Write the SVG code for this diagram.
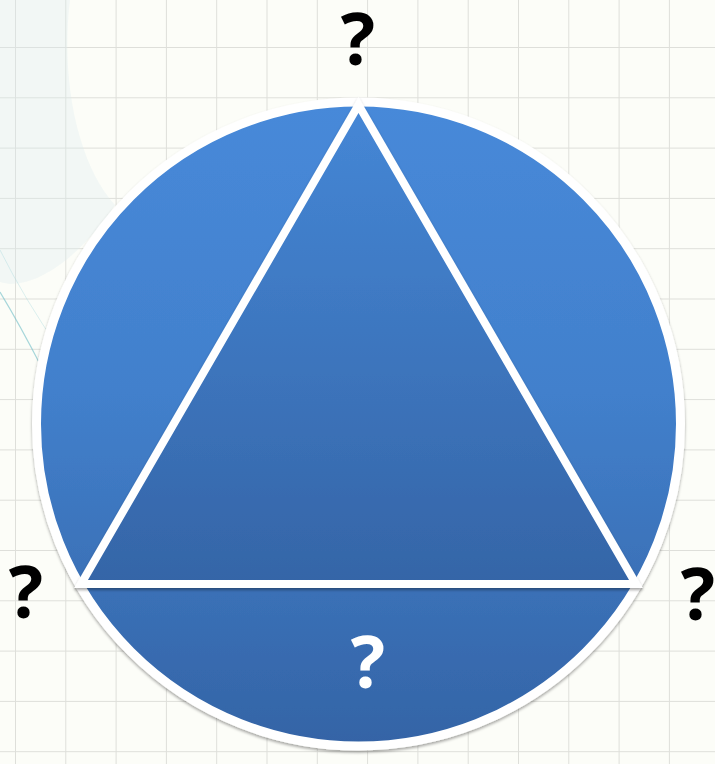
<svg xmlns="http://www.w3.org/2000/svg" width="715" height="764" viewBox="0 0 715 764">
  <defs>
    <linearGradient id="gCircle" gradientUnits="userSpaceOnUse" x1="0" y1="104" x2="0" y2="744">
      <stop offset="0" stop-color="#4789d9"/>
      <stop offset="0.45" stop-color="#4280cc"/>
      <stop offset="1" stop-color="#3464a6"/>
    </linearGradient>
    <linearGradient id="gTri" gradientUnits="userSpaceOnUse" x1="0" y1="105" x2="0" y2="584">
      <stop offset="0" stop-color="#4587d6"/>
      <stop offset="1" stop-color="#3565a7"/>
    </linearGradient>
    <filter id="shadow" x="-10%" y="-10%" width="120%" height="120%">
      <feDropShadow dx="0" dy="2" stdDeviation="1.8" flood-color="#000" flood-opacity="0.35"/>
    </filter>
    <pattern id="grid" x="15" y="47" width="50.3" height="50.3" patternUnits="userSpaceOnUse">
      <path d="M0 0 V50.3 M0 0 H50.3" fill="none" stroke="#dedfda" stroke-width="2"/>
    </pattern>
  </defs>
  <style>
    .q { font-family: "Open Sans", "Liberation Sans", sans-serif; font-weight: 700; font-size: 72px; text-anchor: middle; }
    .dark { fill: #000000; }
    .light { fill: #ffffff; }
  </style>

  <!-- background -->
  <rect width="715" height="764" fill="#fcfdf8"/>
  <rect width="715" height="764" fill="url(#grid)"/>
  <!-- faint swirl decoration -->
  <path d="M0 0 L70 0 C60 80 78 165 115 205 C80 258 32 292 0 282 Z" fill="#dcecef" opacity="0.3"/>
  <path d="M0 292 Q20 325 42 368" fill="none" stroke="#6cbcc6" stroke-width="1.2" opacity="0.6"/>
  <path d="M0 250 Q25 300 60 350" fill="none" stroke="#9fd4da" stroke-width="1" opacity="0.35"/>

  <g id="circle" filter="url(#shadow)">
    <circle cx="358.5" cy="424" r="322" fill="url(#gCircle)" stroke="#ffffff" stroke-width="9"/>
  </g>

  <g id="triangle" filter="url(#shadow)">
    <polygon points="358.5,105 81,584 636,584" fill="url(#gTri)" stroke="#ffffff" stroke-width="8" stroke-linejoin="miter" stroke-miterlimit="10"/>
  </g>

  <g id="label-top"><text class="q dark" x="358" y="65">?</text></g>
  <g id="label-left"><text class="q dark" x="26" y="618">?</text></g>
  <g id="label-right"><text class="q dark" x="698" y="620">?</text></g>
  <g id="label-bottom"><text class="q light" x="368" y="688">?</text></g>

  <g id="connectors"></g>
</svg>
